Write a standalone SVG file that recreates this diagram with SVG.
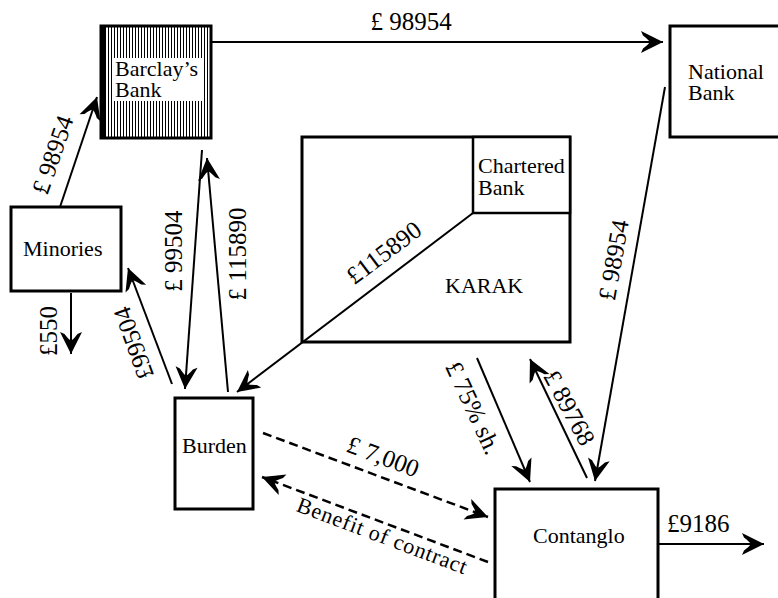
<svg xmlns="http://www.w3.org/2000/svg" width="778" height="598" viewBox="0 0 778 598">
<style>
.box{fill:#fff;stroke:#000;stroke-width:3}
.lbl{font-family:"Liberation Serif","Times New Roman",serif;font-size:22px;fill:#000}
.ed{font-family:"Liberation Serif","Times New Roman",serif;font-size:25px;fill:#000}
.ed2{font-family:"Liberation Serif","Times New Roman",serif;font-size:22px;fill:#000}
.ln{stroke:#000;stroke-width:2;fill:none;marker-end:url(#ah)}
.dl{stroke:#000;stroke-width:2.5;fill:none;stroke-dasharray:9 5;marker-end:url(#ah)}
</style>
<defs>
<marker id="ah" markerUnits="userSpaceOnUse" viewBox="0 0 25 24" markerWidth="25" markerHeight="24" refX="23" refY="12" orient="auto">
<path d="M23,12 Q11,6 1,1 L3,5.5 Q9.5,10.5 9.5,12 Q9.5,13.5 3,18.5 L1,23 Q11,18 23,12 Z" fill="#000"/>
</marker>
<pattern id="hatch" patternUnits="userSpaceOnUse" width="3" height="4">
<rect x="0" y="0" width="1" height="4" fill="#000"/>
</pattern>
</defs>

<g id="barclays">
<rect x="101" y="26" width="110" height="112" fill="url(#hatch)" stroke="#000" stroke-width="3"/>
<rect x="101" y="26" width="5" height="112" fill="#000"/>
<rect x="113" y="58" width="90" height="43" fill="#fff"/>
<text class="lbl" x="115" y="76">Barclay’s</text>
<text class="lbl" x="115" y="97">Bank</text>
</g>
<g id="national">
<rect class="box" x="670" y="26" width="120" height="111"/>
<text class="lbl" x="688" y="79">National</text>
<text class="lbl" x="688" y="100">Bank</text>
</g>
<g id="minories">
<rect class="box" x="11" y="207" width="110" height="84"/>
<text class="lbl" x="23" y="256">Minories</text>
</g>
<g id="karak">
<rect class="box" x="302" y="137" width="268" height="205"/>
<text class="lbl" x="445" y="293">KARAK</text>
</g>
<g id="chartered">
<rect x="473" y="137" width="97" height="76" fill="#fff" stroke="#000" stroke-width="2.5"/>
<text class="lbl" x="478" y="173">Chartered</text>
<text class="lbl" x="478" y="195">Bank</text>
</g>
<g id="burden">
<rect class="box" x="175" y="398" width="78" height="111"/>
<text class="lbl" x="182" y="453">Burden</text>
</g>
<g id="contanglo">
<rect class="box" x="495" y="489" width="163" height="130"/>
<text class="lbl" x="533" y="543">Contanglo</text>
</g>

<g id="connectors">
<line class="ln" x1="212" y1="42" x2="663" y2="42"/>
<line class="ln" x1="60" y1="207" x2="97" y2="97"/>
<line class="ln" x1="71" y1="293" x2="71" y2="354"/>
<line class="ln" x1="172" y1="384" x2="128" y2="268"/>
<line class="ln" x1="202" y1="150" x2="185" y2="389"/>
<line class="ln" x1="228" y1="392" x2="207" y2="158"/>
<line class="ln" x1="473" y1="213" x2="237" y2="392"/>
<line class="ln" x1="477" y1="358" x2="530" y2="482"/>
<line class="ln" x1="587" y1="478" x2="530" y2="359"/>
<line class="ln" x1="665" y1="87" x2="595" y2="481"/>
<line class="ln" x1="658" y1="544" x2="764" y2="544"/>
<line class="dl" x1="263" y1="433" x2="488" y2="517"/>
<line class="dl" x1="488" y1="562" x2="262" y2="477"/>

<text class="ed" x="411" y="30" text-anchor="middle">£ 98954</text>
<text class="ed" transform="translate(53,155) rotate(-71)" x="0" y="8" text-anchor="middle">£ 98954</text>
<text class="ed" transform="translate(49,331) rotate(-90)" x="0" y="8" text-anchor="middle">£550</text>
<text class="ed" transform="translate(134,343) rotate(-110)" x="0" y="8" text-anchor="middle">£99504</text>
<text class="ed" transform="translate(174,251) rotate(-90)" x="0" y="8" text-anchor="middle">£ 99504</text>
<text class="ed" transform="translate(238,254) rotate(-90)" x="0" y="8" text-anchor="middle">£ 115890</text>
<text class="ed" transform="translate(384,253) rotate(-37)" x="0" y="8" text-anchor="middle">£115890</text>
<text class="ed" transform="translate(473,408) rotate(65)" x="0" y="8" text-anchor="middle">£ 75% sh.</text>
<text class="ed" transform="translate(569,408) rotate(62)" x="0" y="8" text-anchor="middle">£ 89768</text>
<text class="ed" transform="translate(614,260) rotate(-80)" x="0" y="8" text-anchor="middle">£ 98954</text>
<text class="ed" x="667" y="532">£9186</text>
<text class="ed" transform="translate(383,457) rotate(20.5)" x="0" y="8" text-anchor="middle">£ 7,000</text>
<text class="ed2" transform="translate(382,536) rotate(20.7)" x="0" y="7" text-anchor="middle" textLength="180" lengthAdjust="spacing">Benefit of contract</text>
</g>
</svg>
